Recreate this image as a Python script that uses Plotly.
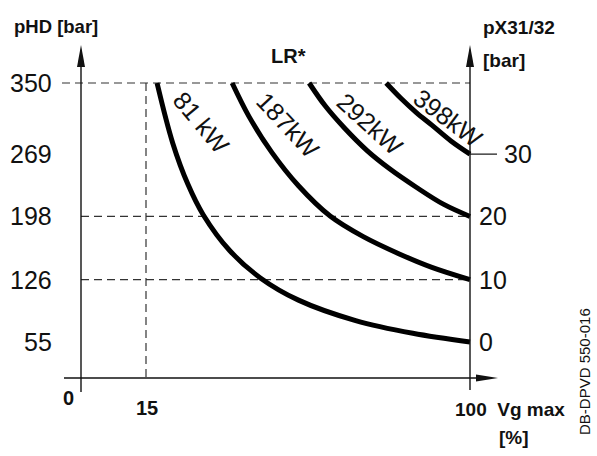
import plotly.graph_objects as go

# ---- data -------------------------------------------------------------
# Constant-power curves of the LR* power controller: (Vg max [%], pHD [bar])
curve_labels = ["81 kW", "187kW", "292kW", "398kW"]
vg_81 = [17.9, 22, 26, 30, 37, 45, 55, 70, 85, 100]
p_81 = [350, 281.8, 234.6, 200, 158.9, 128, 102.7, 79.4, 64.9, 55]
vg_187 = [37.6, 42, 48, 55, 63.3, 72, 81.6, 90, 100]
p_187 = [350, 312, 271, 233, 198.5, 175, 155, 140, 126]
vg_292 = [57.8, 62, 67, 73, 79, 86, 93, 100]
p_292 = [350, 324, 299, 273, 252, 231, 212, 198]
vg_398 = [78, 82, 86, 90, 95, 100]
p_398 = [350, 332, 316, 302, 284, 269]

# left scale (pHD) and matching right scale (pX31/32)
phd_ticks = [350, 269, 198, 126, 55]
px_ticks = [30, 20, 10, 0]
px_tick_phd = [269, 198, 126, 55]
vg_ticks = [15, 100]
dashed_phd = [350, 198, 126]

# ---- geometry ---------------------------------------------------------
W, H = 597, 456
SX = 324 / 85.0      # px per % Vg
SY = 259 / 295.0     # px per bar


def xd(px):
    return 15 + (px - 146) / SX


def yd(py):
    return 350 - (py - 83) / SY


AX_X = xd(81)        # position of the pHD axis line
AX_P = yd(378)       # position of the Vg axis line

REG = "Liberation Sans, Arial, sans-serif"
INK = "#111111"

fig = go.Figure()

curves = [(vg_81, p_81), (vg_187, p_187), (vg_292, p_292), (vg_398, p_398)]
for (vg, p), name in zip(curves, curve_labels):
    fig.add_trace(go.Scatter(
        x=vg, y=p, mode="lines", name=name,
        line=dict(color="black", width=5, shape="spline", smoothing=1.0),
        hoverinfo="skip", showlegend=False, cliponaxis=False))

shapes = []
dash = dict(color="#333333", width=1.2, dash="8px,5px")
for v in dashed_phd:
    x0 = xd(62) if v == 350 else AX_X
    shapes.append(dict(type="line", x0=x0, x1=100, y0=v, y1=v, line=dash, layer="below"))
shapes.append(dict(type="line", x0=vg_ticks[0], x1=vg_ticks[0], y0=350, y1=AX_P,
                   line=dash, layer="below"))

solid = dict(color=INK, width=1.4)
# axes
shapes.append(dict(type="line", x0=AX_X, x1=AX_X, y0=yd(392), y1=yd(60), line=solid))
shapes.append(dict(type="line", x0=100, x1=100, y0=yd(390), y1=yd(62), line=solid))
shapes.append(dict(type="line", x0=xd(64), x1=xd(485), y0=AX_P, y1=AX_P, line=solid))
# tick at pX = 30
shapes.append(dict(type="line", x0=100, x1=xd(497), y0=px_tick_phd[0], y1=px_tick_phd[0],
                   line=dict(color=INK, width=1.2)))


def tri(pts):
    return "M " + " L ".join(f"{xd(a)},{yd(b)}" for a, b in pts) + " Z"


for cx in (81, 470):
    shapes.append(dict(type="path", path=tri([(cx, 45), (cx - 4, 67), (cx + 4, 67)]),
                       fillcolor=INK, line=dict(width=0)))
shapes.append(dict(type="path", path=tri([(498, 378), (476, 374.5), (476, 381.5)]),
                   fillcolor=INK, line=dict(width=0)))

ann = []


def text(t, px, py, size, bold=False, xanchor="center", angle=0):
    ann.append(dict(text=f"<b>{t}</b>" if bold else t, x=xd(px), y=yd(py),
                    xref="x", yref="y", showarrow=False, xanchor=xanchor,
                    yanchor="middle", textangle=angle,
                    font=dict(family=REG, size=size, color=INK)))


for v in phd_ticks:
    ann.append(dict(text=str(v), x=xd(54), y=v, xref="x", yref="y", showarrow=False,
                    xanchor="right", yanchor="middle",
                    font=dict(family=REG, size=25, color=INK)))
for t, v in zip(px_ticks, px_tick_phd):
    ann.append(dict(text=str(t), x=xd(502 if t == 30 else 477), y=v, xref="x", yref="y",
                    showarrow=False, xanchor="left", yanchor="middle",
                    font=dict(family=REG, size=25, color=INK)))

text("pHD [bar]", 56, 26, 18.5, True)
text("LR*", 288, 56, 20, True)
text("pX31/32", 481, 27, 19, True, "left")
text("[bar]", 481, 60, 19, True, "left")
text("0", 68, 398, 20, True)
text(str(vg_ticks[0]), 147, 408, 20, True)
text(f"{vg_ticks[1]}  Vg max", 453, 409, 19, True, "left")
text("[%]", 514, 437, 19, True)
text("DB-DPVD 550-016", 584, 372, 15, False, angle=-90)

# labels along the curves
for t, (cx, cy), a in zip(curve_labels, [(201, 122), (288, 125), (370, 124), (448, 118)],
                          [50, 47, 42, 37]):
    text(t, cx, cy, 25, False, angle=a)

fig.update_layout(
    width=W, height=H, margin=dict(l=0, r=0, t=0, b=0),
    paper_bgcolor="white", plot_bgcolor="white",
    xaxis=dict(range=[xd(0), xd(W)], visible=False, fixedrange=True),
    yaxis=dict(range=[yd(H), yd(0)], visible=False, fixedrange=True),
    shapes=shapes, annotations=ann, showlegend=False,
)

fig.write_html("out.html")
